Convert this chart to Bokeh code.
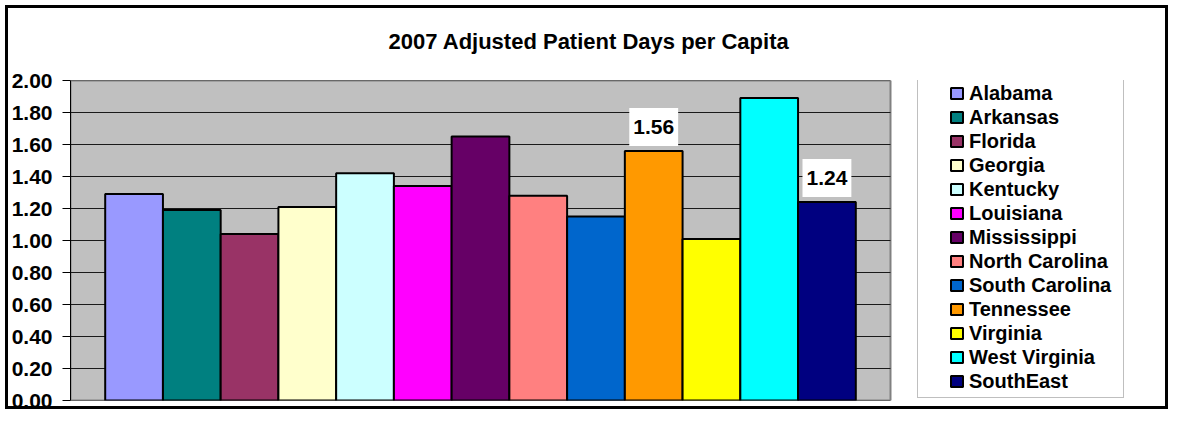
from bokeh.plotting import figure
from bokeh.models import (ColumnDataSource, Range1d, FixedTicker, NumeralTickFormatter,
                          Label, InlineStyleSheet)
from bokeh.embed import file_html
from bokeh.resources import INLINE

# ---- data ----
title_text = "2007 Adjusted Patient Days per Capita"
states = ["Alabama", "Arkansas", "Florida", "Georgia", "Kentucky", "Louisiana",
          "Mississippi", "North Carolina", "South Carolina", "Tennessee",
          "Virginia", "West Virginia", "SouthEast"]
values = [1.29, 1.19, 1.04, 1.21, 1.42, 1.34, 1.65, 1.28, 1.15, 1.56, 1.01, 1.89, 1.24]
colors = ["#9999FF", "#008080", "#993366", "#FFFFCC", "#CCFFFF", "#FF00FF",
          "#660066", "#FF8080", "#0066CC", "#FF9900", "#FFFF00", "#00FFFF", "#000080"]
y_ticks = [0.0, 0.2, 0.4, 0.6, 0.8, 1.0, 1.2, 1.4, 1.6, 1.8, 2.0]
labeled_states = ["Tennessee", "SouthEast"]

FONT = "Liberation Sans"
W, H = 1172, 413

# layout: frame spans plot area + legend area; plot area covers x in [X0, X1]
X0 = -1.101
X1 = len(states) - 1 + 1.101
Y0, Y1 = y_ticks[0], y_ticks[-1]
FRAME_L, FRAME_R = 70, 1165
PLOT_R_PX = 890
px_per_unit = (PLOT_R_PX - FRAME_L) / (X1 - X0)
X_END = X0 + (FRAME_R - FRAME_L) / px_per_unit

xs = list(range(len(states)))
src = ColumnDataSource(dict(x=xs, value=values, state=states, color=colors))

p = figure(width=W, height=H, output_backend="svg", toolbar_location=None,
           x_range=Range1d(X0, X_END), y_range=Range1d(Y0, Y1),
           min_border_left=FRAME_L, min_border_right=W - FRAME_R,
           min_border_top=78, min_border_bottom=13)

css = """
:host::after {
  content: '';
  position: absolute;
  left: 5px; top: 5px; width: 1163px; height: 404px;
  box-sizing: border-box;
  border: 3px solid black;
  pointer-events: none;
  z-index: 10;
}
"""
p.stylesheets = [InlineStyleSheet(css=css)]

p.background_fill_color = "white"
p.border_fill_color = "white"
p.outline_line_color = None

p.xaxis.visible = False
p.xgrid.visible = False
p.ygrid.visible = False

# plot area background and gridlines
p.quad(left=[X0], right=[X1], bottom=[Y0], top=[Y1], fill_color="#C0C0C0",
       line_color="#808080", line_width=2)
p.segment(x0=[X0] * len(y_ticks), x1=[X1] * len(y_ticks), y0=y_ticks, y1=y_ticks,
          line_color="#1a1a1a", line_width=1)

yax = p.yaxis[0]
yax.ticker = FixedTicker(ticks=y_ticks)
yax.formatter = NumeralTickFormatter(format="0.00")
yax.axis_line_color = "black"
yax.axis_line_width = 1
yax.major_tick_line_color = "black"
yax.major_tick_out = 8
yax.major_tick_in = 0
yax.minor_tick_line_color = None
yax.major_label_standoff = 10
yax.major_label_text_font = FONT
yax.major_label_text_font_size = "21px"
yax.major_label_text_font_style = "bold"
yax.major_label_text_color = "black"

p.vbar(x="x", top="value", width=1.0, source=src, fill_color="color",
       line_color="black", line_width=2, legend_field="state")

lg = p.legend[0]
lg.location = (847, 2)
lg.margin = 0
lg.padding = 4
lg.spacing = 0
lg.label_height = 24
lg.label_width = 150
lg.glyph_height = 14
lg.glyph_width = 15
lg.label_standoff = 5
lg.title = " "
lg.title_location = "left"
lg.title_text_font_size = "1px"
lg.title_standoff = 26
lg.border_line_color = "#808080"
lg.border_line_width = 1.5
lg.background_fill_color = "white"
lg.background_fill_alpha = 1.0
lg.label_text_font = FONT
lg.label_text_font_size = "20px"
lg.label_text_font_style = "bold"
lg.label_text_color = "black"

for s in labeled_states:
    i = states.index(s)
    p.add_layout(Label(x=xs[i], y=values[i], text="%.2f" % values[i],
                       text_align="center", text_baseline="middle", y_offset=24,
                       text_font=FONT, text_font_size="21px", text_font_style="bold",
                       text_color="black", background_fill_color="white",
                       padding=(4, 12)))

p.title.text = title_text
p.title.align = "left"
p.title.offset = 318
p.title.standoff = 53
p.title.text_font = FONT
p.title.text_font_size = "22px"
p.title.text_font_style = "bold"
p.title.text_color = "black"

open("out.html", "w").write(file_html(p, INLINE))
